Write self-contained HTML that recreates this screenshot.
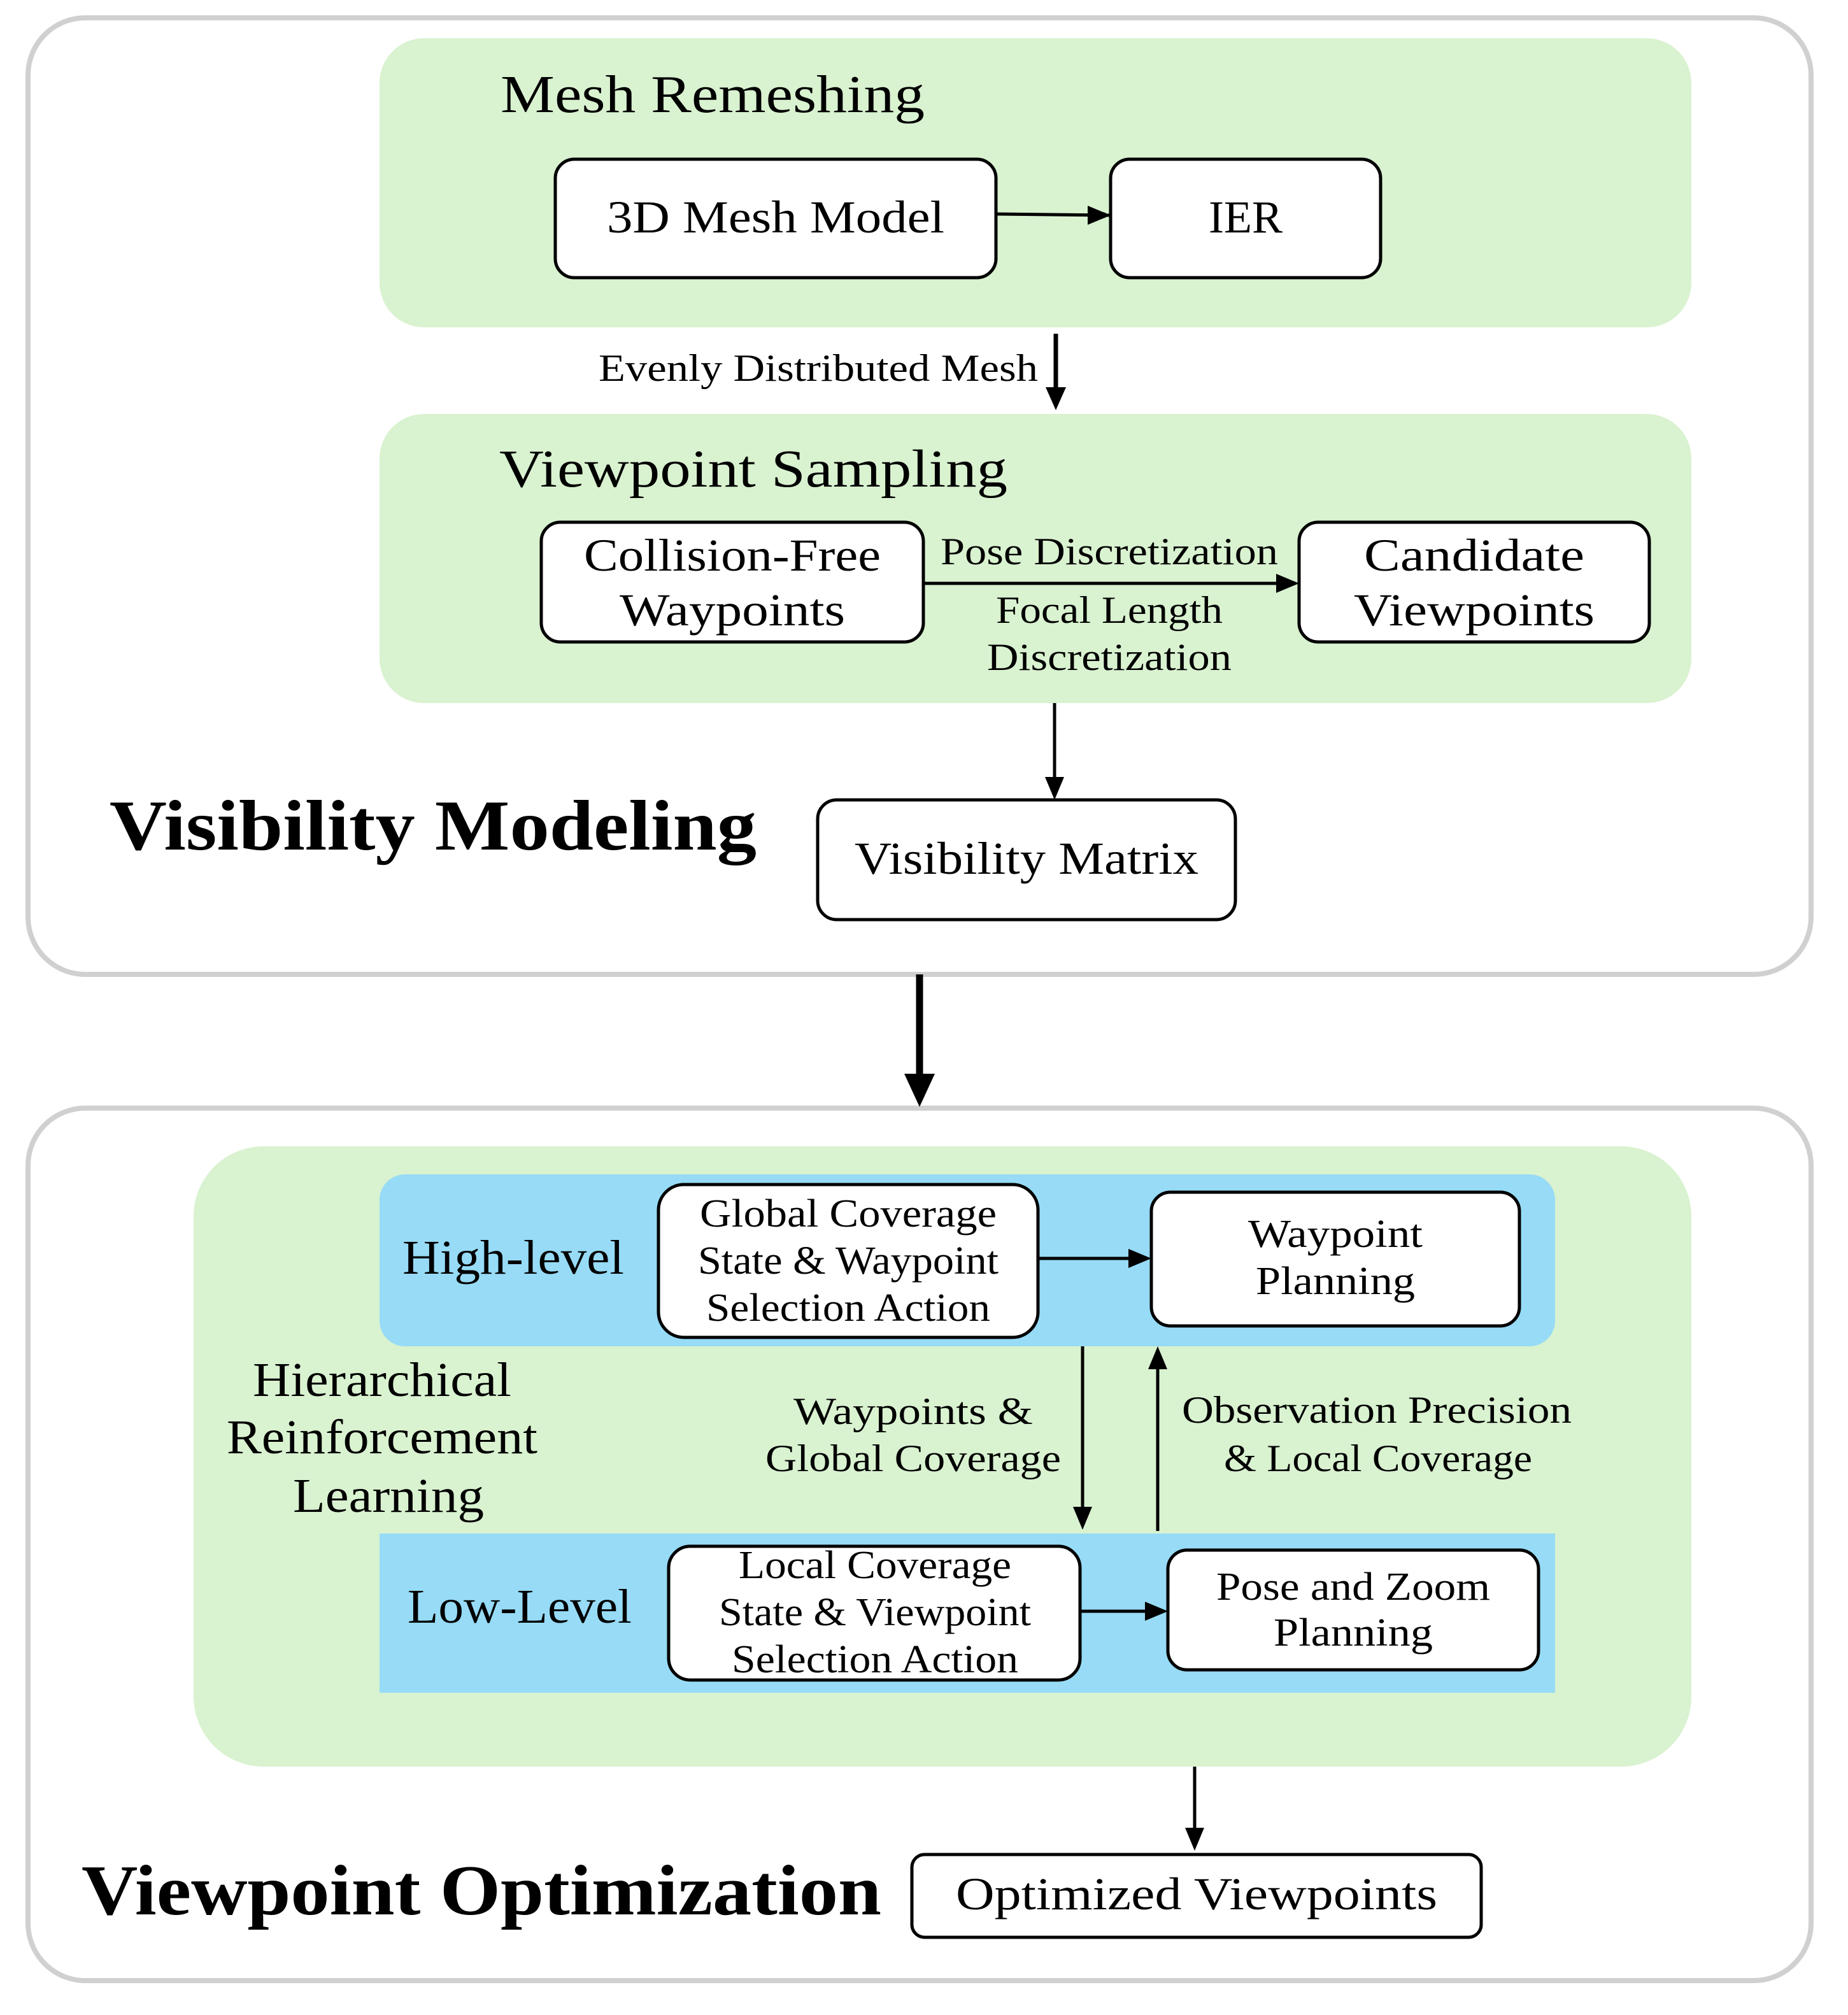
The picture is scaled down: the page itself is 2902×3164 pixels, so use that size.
<!DOCTYPE html>
<html><head><meta charset="utf-8"><style>
html,body{margin:0;padding:0;background:#fff;}
svg{display:block;}
text{font-family:"Liberation Serif",serif;fill:#000;}
</style></head><body>
<svg width="2902" height="3164" viewBox="0 0 2902 3164" xmlns="http://www.w3.org/2000/svg">
<defs>
<marker id="ah" markerWidth="10" markerHeight="10" refX="9" refY="5" orient="auto" markerUnits="userSpaceOnUse" viewBox="0 0 10 10">
<path d="M0,0 L10,5 L0,10 z" fill="#000"/></marker>
</defs>
<style>
.ln{stroke:#000;stroke-width:5;fill:none;}
.bx{fill:#fff;stroke:#000;stroke-width:5;}
</style>
<!-- outer boxes -->
<rect x="44" y="28" width="2800" height="1502" rx="90" fill="#fff" stroke="#d0d0d0" stroke-width="8"/>
<rect x="44" y="1740" width="2800" height="1370" rx="90" fill="#fff" stroke="#d0d0d0" stroke-width="8"/>

<!-- Mesh Remeshing -->
<rect x="596" y="60" width="2060" height="454" rx="70" fill="#d9f2d0"/>
<text x="786" y="176" font-size="84" textLength="666" lengthAdjust="spacingAndGlyphs">Mesh Remeshing</text>
<rect class="bx" x="872" y="250" width="692" height="186" rx="30"/>
<text x="1218" y="365" font-size="72" text-anchor="middle" textLength="530" lengthAdjust="spacingAndGlyphs">3D Mesh Model</text>
<rect class="bx" x="1744" y="250" width="424" height="186" rx="30"/>
<text x="1956" y="365" font-size="72" text-anchor="middle">IER</text>
<line class="ln" x1="1564" y1="336" x2="1742" y2="338" marker-end="url(#ah)" style="marker-end:url(#ah)"/>
<path d="M1744,338 l-36,-15 v30 z" fill="#000"/>

<text x="940" y="598" font-size="60" textLength="690" lengthAdjust="spacingAndGlyphs">Evenly Distributed Mesh</text>
<line x1="1658" y1="524" x2="1658" y2="612" stroke="#000" stroke-width="7"/>
<path d="M1658,644 l-16,-36 h32 z" fill="#000"/>

<!-- Viewpoint Sampling -->
<rect x="596" y="650" width="2060" height="454" rx="70" fill="#d9f2d0"/>
<text x="784" y="764" font-size="84" textLength="798" lengthAdjust="spacingAndGlyphs">Viewpoint Sampling</text>
<rect class="bx" x="850" y="820" width="600" height="188" rx="30"/>
<text x="1150" y="896" font-size="72" text-anchor="middle" textLength="466" lengthAdjust="spacingAndGlyphs">Collision-Free</text>
<text x="1150" y="982" font-size="72" text-anchor="middle" textLength="354" lengthAdjust="spacingAndGlyphs">Waypoints</text>
<rect class="bx" x="2040" y="820" width="550" height="188" rx="30"/>
<text x="2315" y="896" font-size="72" text-anchor="middle" textLength="346" lengthAdjust="spacingAndGlyphs">Candidate</text>
<text x="2315" y="982" font-size="72" text-anchor="middle" textLength="378" lengthAdjust="spacingAndGlyphs">Viewpoints</text>
<line class="ln" x1="1450" y1="916" x2="2010" y2="916"/>
<path d="M2040,916 l-36,-15 v30 z" fill="#000"/>
<text x="1742" y="886" font-size="60" text-anchor="middle" textLength="530" lengthAdjust="spacingAndGlyphs">Pose Discretization</text>
<text x="1742" y="978" font-size="60" text-anchor="middle" textLength="356" lengthAdjust="spacingAndGlyphs">Focal Length</text>
<text x="1742" y="1052" font-size="60" text-anchor="middle" textLength="384" lengthAdjust="spacingAndGlyphs">Discretization</text>
<line class="ln" x1="1656" y1="1104" x2="1656" y2="1226"/>
<path d="M1656,1256 l-15,-36 h30 z" fill="#000"/>

<rect class="bx" x="1284" y="1256" width="656" height="188" rx="30"/>
<text x="1612" y="1372" font-size="72" text-anchor="middle" textLength="540" lengthAdjust="spacingAndGlyphs">Visibility Matrix</text>
<text x="172" y="1334" font-size="112" font-weight="bold" textLength="1016" lengthAdjust="spacingAndGlyphs">Visibility Modeling</text>

<!-- big arrow -->
<line x1="1444" y1="1530" x2="1444" y2="1690" stroke="#000" stroke-width="11"/>
<path d="M1444,1738 l-24,-52 h48 z" fill="#000"/>

<!-- HRL -->
<rect x="304" y="1800" width="2352" height="974" rx="110" fill="#d9f2d0"/>
<rect x="596" y="1844" width="1846" height="270" rx="40" fill="#97dbf6"/>
<rect x="596" y="2408" width="1846" height="250" fill="#97dbf6"/>

<text x="632" y="2000" font-size="76" textLength="348" lengthAdjust="spacingAndGlyphs">High-level</text>
<rect class="bx" x="1034" y="1860" width="596" height="240" rx="40"/>
<text x="1332" y="1926" font-size="62" text-anchor="middle" textLength="466" lengthAdjust="spacingAndGlyphs">Global Coverage</text>
<text x="1332" y="2000" font-size="62" text-anchor="middle" textLength="472" lengthAdjust="spacingAndGlyphs">State &amp; Waypoint</text>
<text x="1332" y="2074" font-size="62" text-anchor="middle" textLength="446" lengthAdjust="spacingAndGlyphs">Selection Action</text>
<rect class="bx" x="1808" y="1872" width="578" height="210" rx="30"/>
<text x="2097" y="1958" font-size="62" text-anchor="middle" textLength="274" lengthAdjust="spacingAndGlyphs">Waypoint</text>
<text x="2097" y="2032" font-size="62" text-anchor="middle" textLength="250" lengthAdjust="spacingAndGlyphs">Planning</text>
<line class="ln" x1="1630" y1="1976" x2="1780" y2="1976"/>
<path d="M1808,1976 l-36,-15 v30 z" fill="#000"/>

<line class="ln" x1="1700" y1="2114" x2="1700" y2="2372"/>
<path d="M1700,2402 l-15,-36 h30 z" fill="#000"/>
<line class="ln" x1="1818" y1="2404" x2="1818" y2="2146"/>
<path d="M1818,2114 l-15,36 h30 z" fill="#000"/>

<text x="1434" y="2236" font-size="60" text-anchor="middle" textLength="376" lengthAdjust="spacingAndGlyphs">Waypoints  &amp;</text>
<text x="1434" y="2310" font-size="60" text-anchor="middle" textLength="464" lengthAdjust="spacingAndGlyphs">Global Coverage</text>
<text x="2162" y="2234" font-size="60" text-anchor="middle" textLength="612" lengthAdjust="spacingAndGlyphs">Observation Precision</text>
<text x="2164" y="2310" font-size="60" text-anchor="middle" textLength="484" lengthAdjust="spacingAndGlyphs">&amp; Local Coverage</text>

<text x="600" y="2192" font-size="76" text-anchor="middle" textLength="406" lengthAdjust="spacingAndGlyphs">Hierarchical</text>
<text x="600" y="2282" font-size="76" text-anchor="middle" textLength="488" lengthAdjust="spacingAndGlyphs">Reinforcement</text>
<text x="610" y="2374" font-size="76" text-anchor="middle" textLength="300" lengthAdjust="spacingAndGlyphs">Learning</text>

<text x="640" y="2548" font-size="76" textLength="352" lengthAdjust="spacingAndGlyphs">Low-Level</text>
<rect class="bx" x="1050" y="2428" width="646" height="210" rx="34"/>
<text x="1374" y="2478" font-size="62" text-anchor="middle" textLength="428" lengthAdjust="spacingAndGlyphs">Local Coverage</text>
<text x="1374" y="2552" font-size="62" text-anchor="middle" textLength="490" lengthAdjust="spacingAndGlyphs">State &amp; Viewpoint</text>
<text x="1374" y="2626" font-size="62" text-anchor="middle" textLength="450" lengthAdjust="spacingAndGlyphs">Selection Action</text>
<rect class="bx" x="1834" y="2434" width="582" height="188" rx="30"/>
<text x="2125" y="2512" font-size="62" text-anchor="middle" textLength="430" lengthAdjust="spacingAndGlyphs">Pose and Zoom</text>
<text x="2125" y="2584" font-size="62" text-anchor="middle" textLength="250" lengthAdjust="spacingAndGlyphs">Planning</text>
<line class="ln" x1="1696" y1="2530" x2="1806" y2="2530"/>
<path d="M1834,2530 l-36,-15 v30 z" fill="#000"/>

<line class="ln" x1="1876" y1="2774" x2="1876" y2="2876"/>
<path d="M1876,2906 l-15,-36 h30 z" fill="#000"/>
<rect class="bx" x="1432" y="2912" width="894" height="130" rx="20"/>
<text x="1879" y="2998" font-size="72" text-anchor="middle" textLength="756" lengthAdjust="spacingAndGlyphs">Optimized Viewpoints</text>
<text x="128" y="3006" font-size="112" font-weight="bold" textLength="1256" lengthAdjust="spacingAndGlyphs">Viewpoint Optimization</text>
</svg>
</body></html>
